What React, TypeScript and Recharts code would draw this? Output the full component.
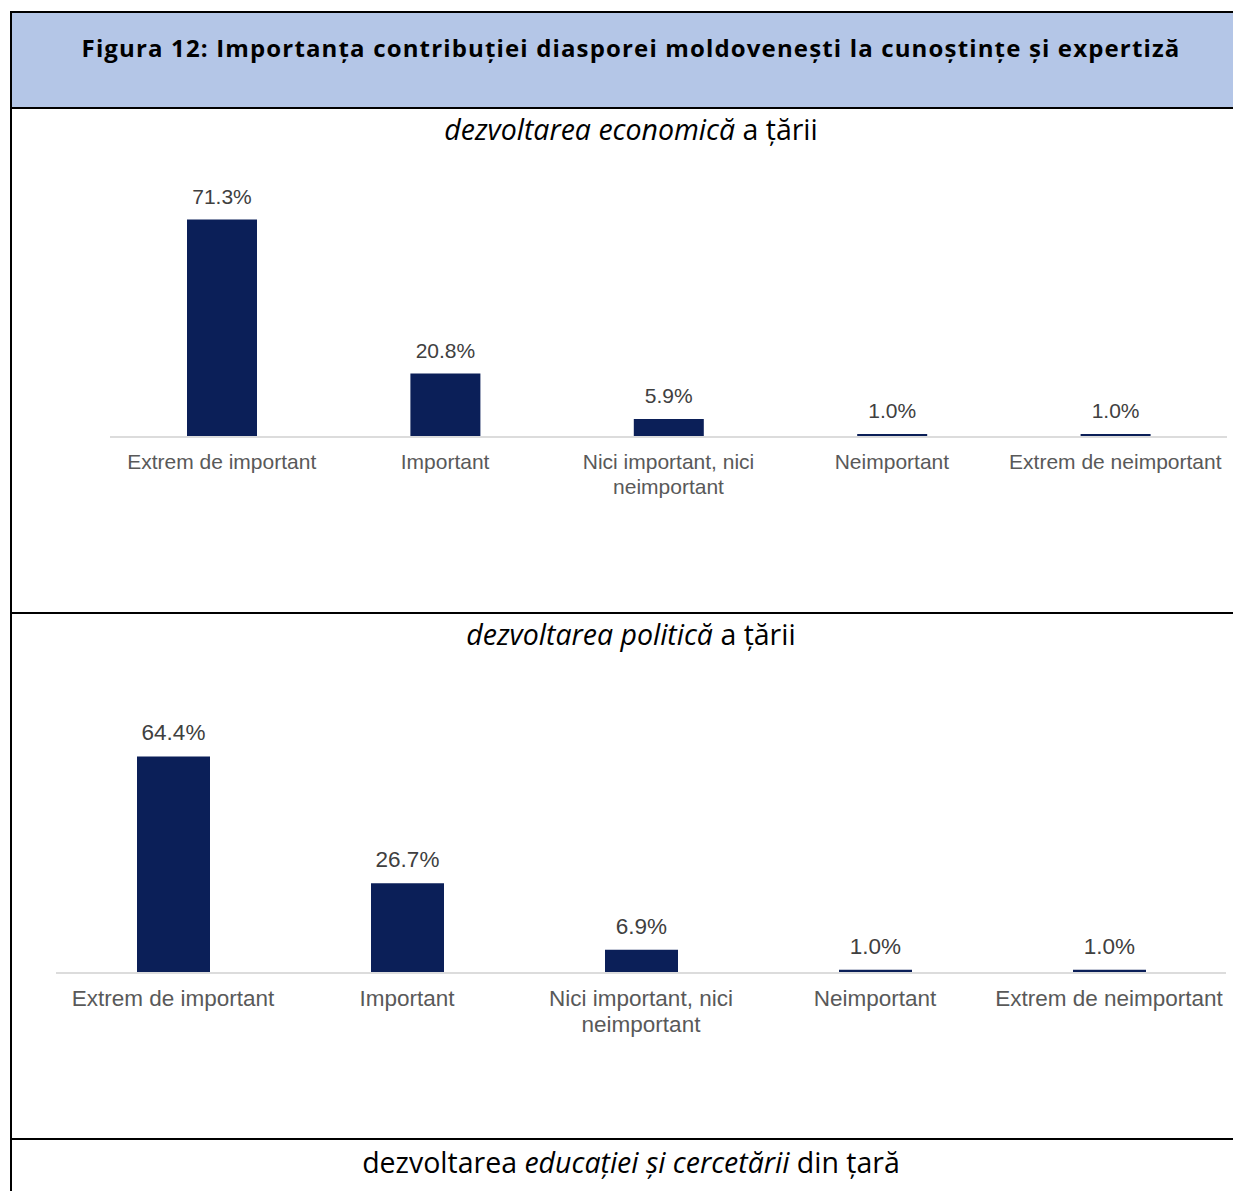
import React from 'react';
import { BarChart, Bar, XAxis, YAxis, LabelList } from 'recharts';

// categories shared by both charts
const categories = [
  'Extrem de important',
  'Important',
  'Nici important, nici neimportant',
  'Neimportant',
  'Extrem de neimportant',
];

// percentages
const economicValues = [71.3, 20.8, 5.9, 1.0, 1.0];
const politicalValues = [64.4, 26.7, 6.9, 1.0, 1.0];

const figureTitle = 'Figura 12: Importanța contribuției diasporei moldovenești la cunoștințe și expertiză';

const BAR_COLOR = '#0b1f58';
const TICK_COLOR = '#595959';
const LABEL_COLOR = '#404040';
const CHART_FONT = '"Liberation Sans", Arial, sans-serif';
const TITLE_FONT = '"Open Sans", "Noto Sans", sans-serif';

const toRows = (values: number[]) => categories.map((name, i) => ({ name, value: values[i] }));

// greedy word wrap, max 21 chars per line
function wrap(label: string, max = 21) {
  const lines: string[] = [];
  let cur = '';
  label.split(' ').forEach((w) => {
    const next = cur ? cur + ' ' + w : w;
    if (next.length > max && cur) {
      lines.push(cur);
      cur = w;
    } else {
      cur = next;
    }
  });
  if (cur) lines.push(cur);
  return lines;
}

function makeTick(fontSize: number, firstDy: number, lineHeight: number) {
  return function Tick(props: any) {
    const { x, y, payload } = props;
    const lines = wrap(String(payload.value));
    return (
      <g>
        {lines.map((line, i) => (
          <text
            key={i}
            x={x}
            y={y + firstDy + i * lineHeight}
            textAnchor="middle"
            fill={TICK_COLOR}
            fontSize={fontSize}
            fontFamily={CHART_FONT}
          >
            {line}
          </text>
        ))}
      </g>
    );
  };
}

interface PanelProps {
  values: number[];
  left: number;
  top: number;
  width: number;
  height: number;
  margin: { top: number; right: number; bottom: number; left: number };
  barSize: number;
  fontSize: number;
  tickDy: number;
  tickLine: number;
}

function Panel({ values, left, top, width, height, margin, barSize, fontSize, tickDy, tickLine }: PanelProps) {
  return (
    <div style={{ position: 'absolute', left, top }}>
      <BarChart width={width} height={height} data={toRows(values)} margin={margin}>
        <XAxis
          dataKey="name"
          interval={0}
          height={70}
          tickSize={0}
          tickMargin={0}
          tickLine={false}
          axisLine={{ stroke: '#dcdcdc', strokeWidth: 2 }}
          tick={makeTick(fontSize, tickDy, tickLine)}
        />
        <YAxis hide domain={[0, 80]} />
        <Bar dataKey="value" fill={BAR_COLOR} barSize={barSize} isAnimationActive={false}>
          <LabelList
            dataKey="value"
            position="top"
            offset={16}
            fill={LABEL_COLOR}
            fontSize={fontSize}
            fontFamily={CHART_FONT}
            formatter={(v: any) => Number(v).toFixed(1) + '%'}
          />
        </Bar>
      </BarChart>
    </div>
  );
}

const line = (top: number): React.CSSProperties => ({
  position: 'absolute',
  left: 10,
  top,
  width: 1240,
  height: 2,
  background: '#000',
});

const subTitle = (top: number): React.CSSProperties => ({
  position: 'absolute',
  left: 11,
  top,
  width: 1240,
  textAlign: 'center',
  fontFamily: TITLE_FONT,
  fontSize: 28.5,
  lineHeight: '28.5px',
  color: '#000',
  whiteSpace: 'nowrap',
});

export default function App() {
  return (
    <div
      style={{
        position: 'absolute',
        left: 0,
        top: 0,
        width: 1233,
        height: 1191,
        overflow: 'hidden',
        background: '#fff',
      }}
    >
      {/* header band */}
      <div style={{ position: 'absolute', left: 12, top: 13, width: 1240, height: 94, background: '#b4c6e7' }} />
      <div style={line(11)} />
      <div style={line(107)} />
      <div style={line(612)} />
      <div style={line(1138)} />
      <div style={{ position: 'absolute', left: 10, top: 11, width: 2, height: 1200, background: '#000' }} />

      <div
        style={{
          position: 'absolute',
          left: 11,
          top: 36,
          width: 1240,
          textAlign: 'center',
          fontFamily: TITLE_FONT,
          fontWeight: 700,
          fontSize: 24,
          lineHeight: '24px',
          letterSpacing: 1.15,
          color: '#000',
          whiteSpace: 'nowrap',
        }}
      >
        {figureTitle}
      </div>

      <div style={subTitle(115)}>
        <i>dezvoltarea economică</i> a țării
      </div>

      <Panel
        values={economicValues}
        left={100}
        top={150}
        width={1133}
        height={400}
        margin={{ top: 43, right: 6, bottom: 43, left: 10 }}
        barSize={70}
        fontSize={21}
        tickDy={32}
        tickLine={25}
      />

      <div style={subTitle(620)}>
        <i>dezvoltarea politică</i> a țării
      </div>

      <Panel
        values={politicalValues}
        left={46}
        top={660}
        width={1187}
        height={420}
        margin={{ top: 44, right: 7, bottom: 37, left: 10 }}
        barSize={73}
        fontSize={22.5}
        tickDy={33}
        tickLine={26}
      />

      <div style={subTitle(1148)}>
        dezvoltarea <i>educației și cercetării</i> din țară
      </div>
    </div>
  );
}
